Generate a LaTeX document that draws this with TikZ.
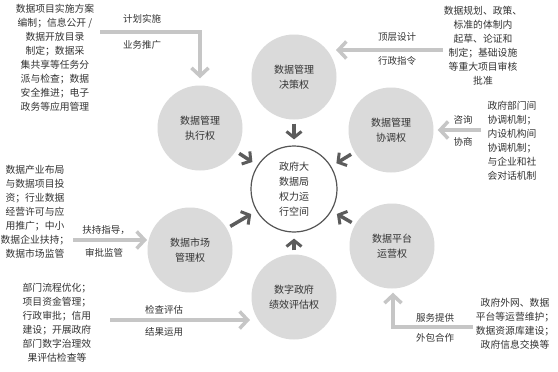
\documentclass[tikz,border=0pt]{standalone}
\usepackage{fontspec}
\setmainfont{Noto Sans CJK SC}
\usetikzlibrary{arrows.meta,calc}
\definecolor{cfill}{HTML}{DADADA}
\definecolor{txt}{HTML}{333333}
\definecolor{outarr}{HTML}{C6C6C6}
\definecolor{inarr}{HTML}{5C5C5C}
\definecolor{ring}{HTML}{555555}
\begin{document}
\begin{tikzpicture}[x=1pt,y=-1pt,
  circ/.style={circle, fill=cfill, minimum size=85pt, inner sep=0pt, align=center,
    font=\fontsize{10}{15}\selectfont, text=txt},
  ctrc/.style={circle, draw=ring, line width=1.2pt, fill=white, minimum size=86pt, inner sep=0pt,
    align=center, font=\fontsize{10}{15}\selectfont, text=txt},
  blk/.style={align=center, font=\fontsize{9.8}{14}\selectfont, text=txt, inner sep=0pt},
  lbl/.style={font=\fontsize{9.5}{12}\selectfont, text=txt, inner sep=0pt},
  inarrow/.style={draw=inarr, line width=3.5pt, -{Straight Barb[length=6pt,width=15pt,line width=3pt]}, shorten <=4pt, shorten >=6pt},
  outarrow/.style={draw=outarr, line width=4pt, -{Straight Barb[length=8pt,width=17pt,line width=3.5pt]}},
]
\useasboundingbox (0,0) rectangle (558,372);
\fill[white] (0,0) rectangle (558,372);

% circles
\node[ctrc] (ctr) at (294,189) {政府大\\数据局\\权力运\\行空间};
\node[circ] (dec) at (294,77) {数据管理\\决策权};
\node[circ] (exe) at (200,128) {数据管理\\执行权};
\node[circ] (coo) at (391,130) {数据管理\\协调权};
\node[circ] (mkt) at (190,250) {数据市场\\管理权};
\node[circ] (eva) at (294,297) {数字政府\\绩效评估权};
\node[circ] (plt) at (392,246) {数据平台\\运营权};

% inner arrows
\foreach \c in {dec,exe,coo,mkt,eva,plt}
  \draw[inarrow] (\c) -- (ctr);

% outer arrows with free ends
\coordinate (tlS) at (100,32);
\coordinate (trS) at (443,50);
\coordinate (rmS) at (481,130);
\coordinate (lmS) at (73,240);
\coordinate (blS) at (110,320);
\coordinate (brS) at (473,327);

\draw[outarrow] (tlS) -| ($(exe.north)+(0,-7)$);
\draw[outarrow] (trS) -- ($(dec)+(42,-27)$);
\draw[outarrow] (rmS) -- ($(coo.east)+(4,0)$);
\draw[outarrow] (lmS) -- ($(mkt)+(-43,-10)$);
\draw[outarrow] (blS) -- ($(eva)+(-44,23)$);
\draw[outarrow] (brS) -| ($(plt.south)+(1,4)$);

% arrow labels
\node[lbl] (l1a) at (142,19) {计划实施};
\node[lbl] (l1b) at (142,45) {业务推广};
\node[lbl] (l2a) at (397,37) {顶层设计};
\node[lbl] (l2b) at (397,61) {行政指令};
\node[lbl] (l3a) at (463,120) {咨询};
\node[lbl] (l3b) at (463,142) {协商};
\node[lbl] (l4a) at (106,230) {扶持指导，};
\node[lbl] (l4b) at (104,253) {审批监管};
\node[lbl] (l5a) at (164,310) {检查评估};
\node[lbl] (l5b) at (164,332) {结果运用};
\node[lbl] (l6a) at (435,318) {服务提供};
\node[lbl] (l6b) at (435,338) {外包合作};

% text blocks
\node[blk] (b1) at (55,58) {数据项目实施方案\\编制；信息公开 /\\数据开放目录\\制定；数据采\\集共享等任务分\\派与检查；数据\\安全推进；电子\\政务等应用管理};
\node[blk] (b2) at (483,46) {数据规划、政策、\\标准的体制内\\起草、论证和\\制定；基础设施\\等重大项目审核\\批准};
\node[blk] (b3) at (512,141) {政府部门间\\协调机制；\\内设机构间\\协调机制；\\与企业和社\\会对话机制};
\node[blk] (b4) at (35,212) {数据产业布局\\与数据项目投\\资；行业数据\\经营许可与应\\用推广；中小\\数据企业扶持；\\数据市场监管};
\node[blk] (b5) at (57,323) {部门流程优化；\\项目资金管理；\\行政审批；信用\\建设；开展政府\\部门数字治理效\\果评估检查等};
\node[blk] (b6) at (515,324) {政府外网、数据\\平台等运营维护；\\数据资源库建设；\\政府信息交换等};
\end{tikzpicture}
\end{document}
